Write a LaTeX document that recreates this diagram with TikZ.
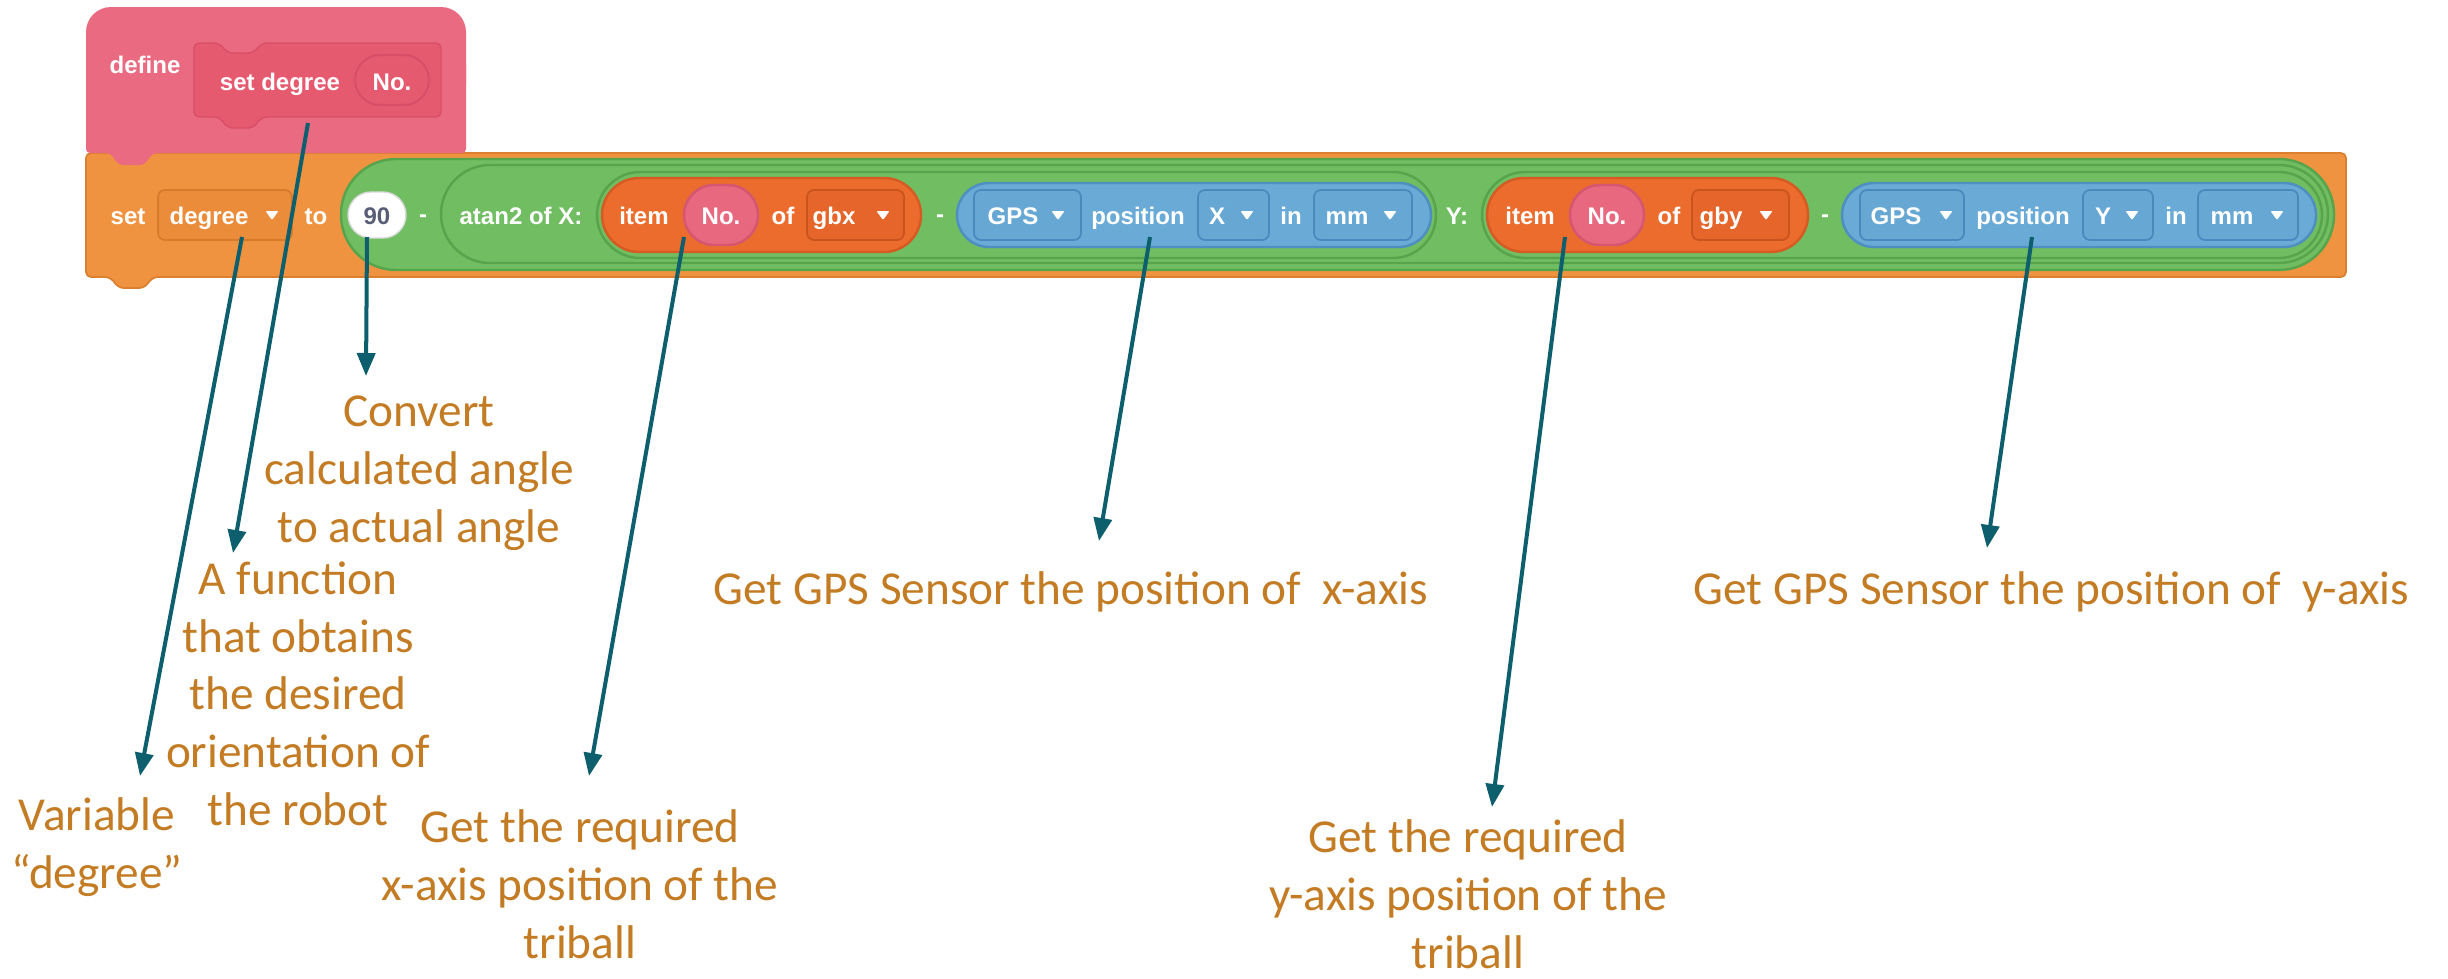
\documentclass[tikz,border=0pt]{standalone}
\usepackage{fontspec}
\setmainfont{Carlito}
\newfontfamily\blockfont{Liberation Sans}
\usetikzlibrary{arrows.meta}

\definecolor{notecol}{HTML}{C47C24}
\definecolor{arrowcol}{HTML}{0E5F6E}
\definecolor{setfill}{HTML}{EF9340}
\definecolor{setedge}{HTML}{DC8030}
\definecolor{setdd}{HTML}{EB8C3A}
\definecolor{setddedge}{HTML}{D77A2B}
\definecolor{defpink}{HTML}{EA6B81}
\definecolor{protofill}{HTML}{E65A70}
\definecolor{protoedge}{HTML}{D84E66}
\definecolor{opgreen}{HTML}{71BD61}
\definecolor{opedge}{HTML}{58A44C}
\definecolor{listfill}{HTML}{EB6C2D}
\definecolor{listedge}{HTML}{D65A22}
\definecolor{listdd}{HTML}{E5652A}
\definecolor{listddedge}{HTML}{C9541E}
\definecolor{argpink}{HTML}{E8687F}
\definecolor{argedge}{HTML}{D55670}
\definecolor{sensfill}{HTML}{69AAD6}
\definecolor{sensedge}{HTML}{4E8FC2}
\definecolor{sensdd}{HTML}{66A7D4}
\definecolor{sensddedge}{HTML}{4A89BD}
\definecolor{numtext}{HTML}{575E75}

\tikzset{
  lbl/.style={font=\blockfont\bfseries\fontsize{6.83pt}{8pt}\selectfont, text=white, inner sep=0pt, anchor=base},
  note/.style={font=\fontsize{13.45pt}{16.36pt}\selectfont, text=notecol, align=center, inner sep=0pt, anchor=base},
  pointer/.style={draw=arrowcol, line width=1.14pt, -{Triangle[length=0.23cm,width=0.18cm]}},
  ddbox/.style={rounded corners=0.07cm, line width=0.5pt},
  reporter/.style={line width=0.7pt},
}
% small white drop-down triangle centred on x = #1
\newcommand\ddtri[1]{\fill[white, rounded corners=0.01cm] (#1-6.5,211) -- (#1+6.5,211) -- (#1,220) -- cycle;}

\begin{document}
\begin{tikzpicture}[x=0.01cm,y=-0.01cm]
\useasboundingbox (0,0) rectangle (2448,978);
\fill[white] (0,0) rectangle (2448,978);

% ---- "set degree to ..." command block
\filldraw[fill=setfill, draw=setedge, line width=0.5pt, rounded corners=0.05cm]
  (86,153) -- (2346,153) -- (2346,277) -- (153,277) -- (144,288) -- (119,288) -- (110,277) -- (86,277) -- cycle;

% ---- define hat block
\fill[defpink, rounded corners=0.25cm] (86,7) rectangle (466,110);
\fill[defpink, rounded corners=0.04cm] (86,60) -- (466,60) -- (466,153) -- (153,153) -- (144,165) -- (119,165) -- (110,153) -- (86,153) -- cycle;
\filldraw[fill=protofill, draw=protoedge, line width=0.4pt, rounded corners=0.05cm]
  (194,43) -- (219,43) -- (228,53) -- (253,53) -- (262,43) -- (441,43) -- (441,117)
  -- (262,117) -- (253,128) -- (228,128) -- (219,117) -- (194,117) -- cycle;
\filldraw[fill=protofill, draw=protoedge, line width=0.6pt, rounded corners=0.25cm] (355,55) rectangle (429,105);
\node[lbl] (def) at (145,73) {define};
\node[lbl] (setdeg) at (280,90) {set degree};
\node[lbl] (arg) at (392,90) {No.};

% ---- set variable part
\node[lbl] (setw) at (128,224) {set};
\draw[ddbox, fill=setdd, draw=setddedge] (158,190) rectangle (292,240);
\node[lbl] (varname) at (209,224) {degree}; \ddtri{272}
\node[lbl] (tow) at (316,224) {to};

% ---- nested operator reporters
\filldraw[reporter, fill=opgreen, draw=opedge, rounded corners=0.55cm] (341,159) rectangle (2334,270);
\filldraw[fill=white, draw=white!85!black, line width=0.4pt, rounded corners=0.23cm] (348,192) rectangle (406,238);
\node[lbl, text=numtext] (ninety) at (377,224) {90};
\node[lbl] (minusa) at (423,222) {-};
\filldraw[reporter, fill=opgreen, draw=opedge, rounded corners=0.49cm] (441,165) rectangle (2328,263);
\node[lbl] (atan) at (521,224) {atan2 of X:};
\filldraw[reporter, fill=opgreen, draw=opedge, rounded corners=0.43cm] (597,172) rectangle (1436,258);
\filldraw[reporter, fill=opgreen, draw=opedge, rounded corners=0.43cm] (1482,172) rectangle (2322,258);
\node[lbl] (ylab) at (1457,224) {Y:};

% ---- item No. of gbx
\filldraw[reporter, fill=listfill, draw=listedge, rounded corners=0.37cm] (602,178) rectangle (921,252);
\node[lbl] (itemx) at (644,224) {item};
\filldraw[reporter, fill=argpink, draw=argedge, rounded corners=0.3cm] (684,185) rectangle (758,245);
\node[lbl] (nox) at (721,224) {No.};
\node[lbl] (ofx) at (783,224) {of};
\draw[ddbox, fill=listdd, draw=listddedge] (807,190) rectangle (904,240);
\node[lbl] (gbx) at (834,224) {gbx}; \ddtri{883}
\node[lbl] (minusx) at (940,222) {-};

% ---- GPS position X in mm
\filldraw[reporter, fill=sensfill, draw=sensedge, rounded corners=0.32cm] (957,183) rectangle (1431,247);
\draw[ddbox, fill=sensdd, draw=sensddedge] (974,190) rectangle (1081,240);
\node[lbl] (gpsxa) at (1013,224) {GPS}; \ddtri{1058}
\node[lbl] (posx) at (1138,224) {position};
\draw[ddbox, fill=sensdd, draw=sensddedge] (1198,190) rectangle (1269,240);
\node[lbl] (axx) at (1217,224) {X}; \ddtri{1247}
\node[lbl] (inx) at (1291,224) {in};
\draw[ddbox, fill=sensdd, draw=sensddedge] (1314,190) rectangle (1412,240);
\node[lbl] (mmx) at (1347,224) {mm}; \ddtri{1390}

% ---- item No. of gby
\filldraw[reporter, fill=listfill, draw=listedge, rounded corners=0.37cm] (1487,178) rectangle (1808,252);
\node[lbl] (itemy) at (1530,224) {item};
\filldraw[reporter, fill=argpink, draw=argedge, rounded corners=0.3cm] (1570,185) rectangle (1644,245);
\node[lbl] (noy) at (1607,224) {No.};
\node[lbl] (ofy) at (1669,224) {of};
\draw[ddbox, fill=listdd, draw=listddedge] (1692,190) rectangle (1789,240);
\node[lbl] (gby) at (1721,224) {gby}; \ddtri{1766}
\node[lbl] (minusy) at (1825,222) {-};

% ---- GPS position Y in mm
\filldraw[reporter, fill=sensfill, draw=sensedge, rounded corners=0.32cm] (1842,183) rectangle (2316,247);
\draw[ddbox, fill=sensdd, draw=sensddedge] (1860,190) rectangle (1964,240);
\node[lbl] (gpsya) at (1896,224) {GPS}; \ddtri{1946}
\node[lbl] (posy) at (2023,224) {position};
\draw[ddbox, fill=sensdd, draw=sensddedge] (2083,190) rectangle (2153,240);
\node[lbl] (axy) at (2103,224) {Y}; \ddtri{2132}
\node[lbl] (iny) at (2176,224) {in};
\draw[ddbox, fill=sensdd, draw=sensddedge] (2198,190) rectangle (2298,240);
\node[lbl] (mmy) at (2232,224) {mm}; \ddtri{2277}

% ---- annotations (anchored on the baseline of their last line)
\node[note] (conv) at (419,542) {Convert\\calculated angle\\to actual angle};
\node[note] (func) at (298,825) {A function\\that obtains\\the desired\\orientation of\\the robot};
\node[note] (var) at (97,888) {Variable\\“degree”};
\node[note] (xreq) at (580,958) {Get the required\\x-axis position of the\\triball};
\node[note, anchor=base west] (gpsx) at (713,604) {Get GPS Sensor the position of \ x-axis};
\node[note, anchor=base west] (gpsy) at (1693,604) {Get GPS Sensor the position of \ y-axis};
\node[note] (yreq) at (1468,968) {Get the required\\y-axis position of the\\triball};

% ---- pointers
\coordinate (p1s) at (242,237);  \coordinate (p1e) at (140,776);
\coordinate (p2s) at (308,123);  \coordinate (p2e) at (233,553);
\coordinate (p3s) at (367,237);  \coordinate (p3e) at (366,376);
\coordinate (p4s) at (684,237);  \coordinate (p4e) at (589,776);
\coordinate (p5s) at (1150,237); \coordinate (p5e) at (1099,541);
\coordinate (p6s) at (1565,237); \coordinate (p6e) at (1492,807);
\coordinate (p7s) at (2032,237); \coordinate (p7e) at (1987,548);
\foreach \k in {1,...,7} \draw[pointer] (p\k s) -- (p\k e);
\end{tikzpicture}
\end{document}
